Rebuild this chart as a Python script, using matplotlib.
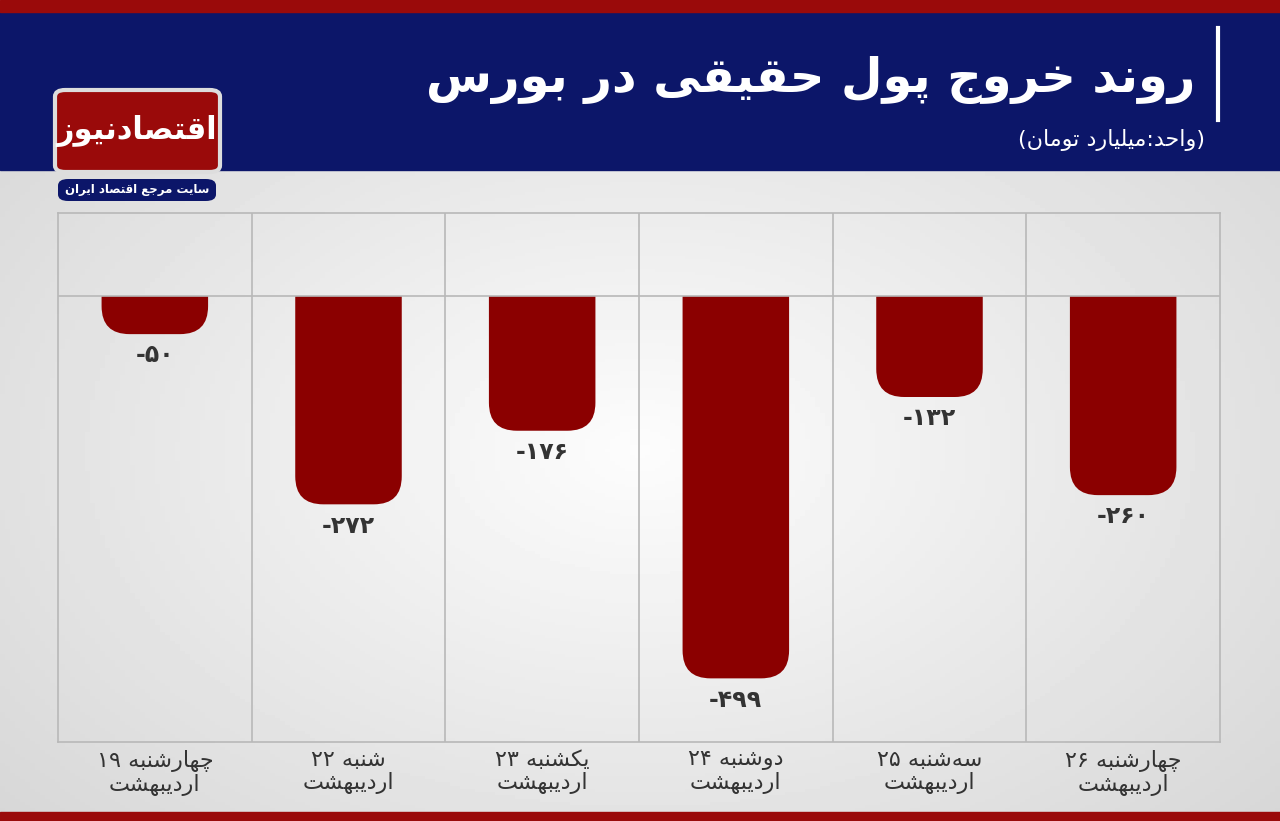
import numpy as np
import matplotlib.pyplot as plt
from matplotlib.patches import FancyBboxPatch, Rectangle

# data
days = ['چهارشنبه ۱۹\nاردیبهشت', 'شنبه ۲۲\nاردیبهشت', 'یکشنبه ۲۳\nاردیبهشت',
        'دوشنبه ۲۴\nاردیبهشت', 'سه‌شنبه ۲۵\nاردیبهشت', 'چهارشنبه ۲۶\nاردیبهشت']
values = [-50, -272, -176, -499, -132, -260]
value_labels = ['-۵۰', '-۲۷۲', '-۱۷۶', '-۴۹۹', '-۱۳۲', '-۲۶۰']
title = 'روند خروج پول حقیقی در بورس'
subtitle = '(واحد:میلیارد تومان)'
logo = 'اقتصادنیوز'
logo_sub = 'سایت مرجع اقتصاد ایران'

# minimal arabic/persian shaping (iso, fin, ini, med)
FORMS = {
    'ا': (0xFE8D, 0xFE8E, None, None), 'ب': (0xFE8F, 0xFE90, 0xFE91, 0xFE92),
    'پ': (0xFB56, 0xFB57, 0xFB58, 0xFB59), 'ت': (0xFE95, 0xFE96, 0xFE97, 0xFE98),
    'ج': (0xFE9D, 0xFE9E, 0xFE9F, 0xFEA0), 'چ': (0xFB7A, 0xFB7B, 0xFB7C, 0xFB7D),
    'ح': (0xFEA1, 0xFEA2, 0xFEA3, 0xFEA4), 'خ': (0xFEA5, 0xFEA6, 0xFEA7, 0xFEA8),
    'د': (0xFEA9, 0xFEAA, None, None), 'ر': (0xFEAD, 0xFEAE, None, None),
    'ز': (0xFEAF, 0xFEB0, None, None), 'س': (0xFEB1, 0xFEB2, 0xFEB3, 0xFEB4),
    'ش': (0xFEB5, 0xFEB6, 0xFEB7, 0xFEB8), 'ص': (0xFEB9, 0xFEBA, 0xFEBB, 0xFEBC),
    'ط': (0xFEC1, 0xFEC2, 0xFEC3, 0xFEC4), 'ع': (0xFEC9, 0xFECA, 0xFECB, 0xFECC),
    'ف': (0xFED1, 0xFED2, 0xFED3, 0xFED4), 'ق': (0xFED5, 0xFED6, 0xFED7, 0xFED8),
    'ک': (0xFB8E, 0xFB8F, 0xFB90, 0xFB91), 'ل': (0xFEDD, 0xFEDE, 0xFEDF, 0xFEE0),
    'م': (0xFEE1, 0xFEE2, 0xFEE3, 0xFEE4), 'ن': (0xFEE5, 0xFEE6, 0xFEE7, 0xFEE8),
    'ه': (0xFEE9, 0xFEEA, 0xFEEB, 0xFEEC), 'و': (0xFEED, 0xFEEE, None, None),
    'ی': (0xFBFC, 0xFBFD, 0xFBFE, 0xFBFF),
}


def shape_line(s):
    out = []
    for i, ch in enumerate(s):
        if ch not in FORMS:
            out.append(ch)
            continue
        prev = s[i - 1] if i > 0 else ''
        nxt = s[i + 1] if i + 1 < len(s) else ''
        join_prev = prev in FORMS and FORMS[prev][2] is not None
        join_next = nxt in FORMS and FORMS[ch][2] is not None
        iso, fin, ini, med = FORMS[ch]
        if join_prev and join_next:
            out.append(chr(med))
        elif join_prev:
            out.append(chr(fin))
        elif join_next:
            out.append(chr(ini))
        else:
            out.append(chr(iso))
    out = ''.join(c for c in out if c != '\u200c')
    # visual order: reverse, but keep digit runs LTR
    runs, cur = [], ''
    for c in out:
        if '\u06f0' <= c <= '\u06f9':
            cur += c
        else:
            if cur:
                runs.append(cur)
                cur = ''
            runs.append(c)
    if cur:
        runs.append(cur)
    vis = ''.join(reversed(runs))
    return vis.replace('(', '\0').replace(')', '(').replace('\0', ')')


def fa(s):
    return '\n'.join(shape_line(l) for l in s.split('\n'))


plt.rcParams['font.family'] = ['DejaVu Sans']
fig = plt.figure(figsize=(12.8, 8.21), dpi=100)

# background gradient
bg = fig.add_axes([0, 0, 1, 1])
grad = np.linspace(0, 1, 256)
xx, yy = np.meshgrid(grad, grad)
r = np.sqrt((xx - 0.5) ** 2 + (yy - 0.45) ** 2)
bg.imshow(0.99 - 0.22 * r, cmap='gray', vmin=0, vmax=1, extent=[0, 1, 0, 1],
          aspect='auto', origin='lower')
bg.set_xlim(0, 1)
bg.set_ylim(0, 1)
bg.axis('off')
bg.add_patch(Rectangle((0, 1 - 170 / 821), 1, 158 / 821, color='#0c1669'))
bg.add_patch(Rectangle((0, 1 - 12 / 821), 1, 12 / 821, color='#9a0a0a'))
bg.add_patch(Rectangle((0, 0), 1, 9 / 821, color='#9a0a0a'))
bg.plot([1218 / 1280] * 2, [1 - 28 / 821, 1 - 120 / 821], color='white', lw=3)
bg.text(1195 / 1280, 1 - 80 / 821, fa(title), color='white', fontsize=34.5,
        fontweight='bold', ha='right', va='center')
bg.text(1205 / 1280, 1 - 140 / 821, fa(subtitle), color='white', fontsize=16,
        ha='right', va='center')
# logo
bg.add_patch(FancyBboxPatch((55 / 1280, 1 - 172 / 821), 165 / 1280, 82 / 821,
                            boxstyle='round,pad=0,rounding_size=0.008',
                            fc='#9a0a0a', ec='#dddddd', lw=3))
bg.text(137 / 1280, 1 - 131 / 821, fa(logo), color='white', fontsize=22,
        fontweight='bold', ha='center', va='center')
bg.add_patch(FancyBboxPatch((58 / 1280, 1 - 201 / 821), 158 / 1280, 22 / 821,
                            boxstyle='round,pad=0,rounding_size=0.008',
                            fc='#0c1669', ec='none'))
bg.text(137 / 1280, 1 - 190 / 821, fa(logo_sub), color='white', fontsize=8.5,
        fontweight='bold', ha='center', va='center')

# chart
ax = fig.add_axes([58 / 1280, 1 - 742 / 821, 1162 / 1280, 529 / 821])
ax.patch.set_alpha(0)
x = np.arange(len(values))
bars = ax.bar(x, values, width=0.55, alpha=0)
ax.set_xlim(-0.5, len(values) - 0.5)
ax.set_ylim(-582, 108)
clip = Rectangle((-1, -1000), 10, 1000, transform=ax.transData)
px_x = 1162 / len(values)
px_y = 529 / 690
rx = 28 / px_x
for b, lab in zip(bars, value_labels):
    h = b.get_height()
    p = FancyBboxPatch((b.get_x(), h), b.get_width(), -h + 100,
                       boxstyle=f'round,pad=0,rounding_size={rx}',
                       mutation_aspect=px_x / px_y, fc='#8b0000', ec='none')
    ax.add_patch(p)
    p.set_clip_path(clip)
    ax.text(b.get_x() + b.get_width() / 2, h - 12, lab, ha='center', va='top',
            fontsize=17, fontweight='bold', color='#333333')
for xv in np.arange(0.5, len(values) - 0.5):
    ax.axvline(xv, color='#b8b8b8', lw=1.2)
ax.axhline(0, color='#b8b8b8', lw=1.2)
for s in ax.spines.values():
    s.set_color('#b8b8b8')
    s.set_linewidth(1.2)
ax.set_yticks([])
ax.set_xticks(x)
ax.set_xticklabels([fa(d) for d in days], fontsize=16, color='#333333',
                   linespacing=1.1)
ax.tick_params(axis='x', length=0, pad=6)

fig.savefig('out.png', dpi=100)
